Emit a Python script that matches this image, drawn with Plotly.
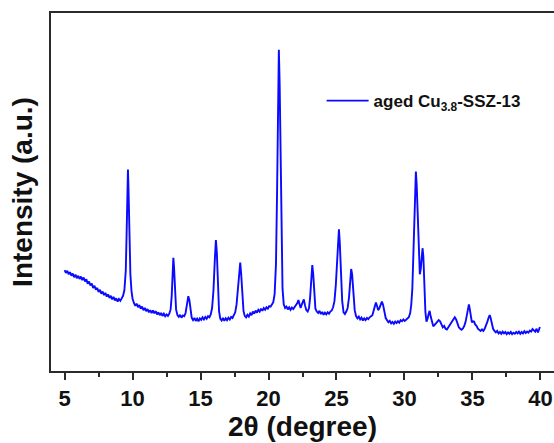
import plotly.graph_objects as go

# ---- data (2θ in degrees, intensity in arbitrary units) ----
two_theta = [
    5.0, 5.1, 5.2, 5.3, 5.4, 5.5, 5.6, 5.7, 5.8, 5.9, 6.0, 6.1, 6.2, 6.3, 6.4, 6.5, 6.6, 6.7, 6.8, 6.9,
    7.0, 7.1, 7.2, 7.3, 7.4, 7.5, 7.6, 7.7, 7.8, 7.9, 8.0, 8.1, 8.2, 8.3, 8.4, 8.5, 8.6, 8.7, 8.8, 8.9,
    9.0, 9.1, 9.2, 9.3, 9.4, 9.5, 9.56, 9.62, 9.66, 9.7, 9.76, 9.84, 9.92, 10.0,
    10.1, 10.2, 10.3, 10.4, 10.5, 10.6, 10.7, 10.8, 10.9, 11.0, 11.1, 11.2, 11.3, 11.4, 11.5, 11.6,
    11.7, 11.8, 11.9, 12.0, 12.1, 12.2, 12.3, 12.4, 12.5, 12.6, 12.7, 12.8, 12.88, 12.95, 13.0, 13.05,
    13.12, 13.2, 13.3, 13.4, 13.5, 13.6, 13.7, 13.8, 13.9, 14.0, 14.1, 14.18, 14.26, 14.35, 14.45,
    14.55, 14.65, 14.75, 14.85, 14.95, 15.05, 15.15, 15.25, 15.35, 15.45, 15.55, 15.65, 15.75, 15.85,
    15.95, 16.05, 16.13, 16.2, 16.28, 16.36, 16.45, 16.55, 16.65, 16.75, 16.85, 16.95, 17.05, 17.15,
    17.25, 17.35, 17.45, 17.55, 17.65, 17.75, 17.85, 17.92, 17.99, 18.07, 18.16, 18.25, 18.35, 18.45,
    18.55, 18.65, 18.75, 18.85, 18.95, 19.05, 19.15, 19.25, 19.35, 19.45, 19.55, 19.65, 19.75, 19.85,
    19.95, 20.05, 20.15, 20.25, 20.35, 20.45, 20.55, 20.63, 20.7, 20.76, 20.82, 20.88, 20.95, 21.03,
    21.12, 21.22, 21.32, 21.42, 21.52, 21.62, 21.72, 21.82, 21.92, 22.02, 22.12, 22.2, 22.28, 22.36,
    22.45, 22.53, 22.6, 22.68, 22.78, 22.88, 22.98, 23.06, 23.14, 23.22, 23.29, 23.36, 23.45, 23.55,
    23.65, 23.75, 23.85, 23.95, 24.05, 24.15, 24.25, 24.35, 24.45, 24.55, 24.65, 24.75, 24.85, 24.95,
    25.05, 25.13, 25.18, 25.24, 25.32, 25.42, 25.52, 25.62, 25.72, 25.82, 25.92, 26.0, 26.08, 26.15,
    26.24, 26.34, 26.44, 26.54, 26.64, 26.74, 26.84, 26.94, 27.04, 27.14, 27.24, 27.34, 27.44, 27.54,
    27.64, 27.74, 27.84, 27.9, 27.98, 28.06, 28.14, 28.24, 28.34, 28.42, 28.52, 28.62, 28.72, 28.82,
    28.92, 29.02, 29.12, 29.22, 29.32, 29.42, 29.52, 29.62, 29.72, 29.82, 29.92, 30.02, 30.12, 30.22,
    30.32, 30.42, 30.5, 30.58, 30.66, 30.74, 30.8, 30.84, 30.9, 30.97, 31.05, 31.13, 31.2, 31.27,
    31.33, 31.39, 31.46, 31.54, 31.62, 31.7, 31.78, 31.85, 31.93, 32.02, 32.12, 32.22, 32.32, 32.42,
    32.52, 32.62, 32.72, 32.82, 32.92, 33.02, 33.12, 33.22, 33.32, 33.42, 33.52, 33.62, 33.7, 33.8,
    33.9, 34.0, 34.1, 34.2, 34.3, 34.4, 34.5, 34.6, 34.68, 34.74, 34.8, 34.88, 34.96, 35.04, 35.12,
    35.2, 35.3, 35.4, 35.5, 35.6, 35.7, 35.8, 35.9, 36.0, 36.1, 36.2, 36.27, 36.34, 36.42, 36.52,
    36.62, 36.72, 36.82, 36.92, 37.02, 37.12, 37.22, 37.32, 37.42, 37.52, 37.62, 37.72, 37.82, 37.92,
    38.02, 38.12, 38.22, 38.32, 38.42, 38.52, 38.62, 38.72, 38.82, 38.92, 39.02, 39.12, 39.22, 39.32,
    39.42, 39.52, 39.62, 39.72, 39.82, 39.9, 39.96,
]
intensity = [
    28.2, 27.4, 28.0, 27.0, 27.6, 26.6, 27.2, 26.2, 26.9, 25.9, 26.6, 25.7, 26.4, 25.4, 26.1, 25.0, 25.6, 24.4, 25.0, 23.9,
    24.4, 23.2, 23.8, 22.7, 23.2, 22.1, 22.7, 21.6, 22.2, 21.2, 21.8, 20.8, 21.4, 20.4, 21.0, 20.0, 20.7, 19.7, 20.3, 19.4,
    20.1, 19.6, 20.3, 21.0, 22.6, 28.0, 38.0, 52.0, 56.3, 51.0, 38.0, 27.0, 22.4, 20.2,
    19.0, 18.2, 18.8, 17.8, 18.4, 17.4, 18.0, 17.0, 17.6, 16.7, 17.3, 16.4, 17.0, 16.2, 16.9, 16.1,
    16.7, 15.8, 16.4, 15.6, 16.2, 15.4, 16.0, 15.3, 15.8, 15.4, 16.0, 17.2, 21.0, 28.0, 31.6, 29.0,
    21.5, 17.2, 15.6, 15.1, 15.7, 14.9, 15.5, 15.3, 16.2, 18.2, 20.9, 19.8, 16.5, 14.9, 14.2,
    14.8, 14.0, 14.6, 13.9, 14.7, 14.3, 15.0, 14.4, 15.1, 14.6, 15.3, 15.0, 15.8, 17.6,
    22.5, 31.0, 36.6, 33.0, 23.0, 16.8, 14.6, 14.1, 14.8, 14.0, 14.7, 14.2, 14.9, 14.4,
    15.1, 14.8, 15.6, 16.4, 18.6, 22.5, 28.0, 30.3, 27.0, 21.0, 16.8, 15.4, 15.0, 15.7,
    15.2, 16.1, 15.6, 16.6, 16.0, 16.9, 16.3, 17.1, 16.6, 17.4, 16.8, 17.6, 17.1, 17.8,
    17.4, 18.1, 18.0, 18.6, 19.2, 21.5, 30.0, 50.0, 75.0, 89.7, 80.0, 58.0, 35.0, 23.0,
    18.6, 17.6, 18.0, 17.2, 17.8, 17.1, 17.7, 17.3, 17.9, 18.3, 19.0, 19.8, 18.4, 17.6,
    18.6, 19.8, 20.0, 18.4, 17.0, 16.6, 17.6, 20.5, 25.5, 29.6, 27.0, 21.5, 17.4, 16.6,
    16.2, 16.8, 15.9, 16.5, 15.7, 16.3, 15.8, 16.4, 16.0, 16.6, 16.9, 17.8, 19.5, 24.0,
    32.0, 38.5, 39.6, 36.0, 27.0, 19.5, 16.4, 15.9, 16.6, 17.6, 20.5, 25.0, 28.5, 27.0,
    21.0, 17.0, 15.3, 14.7, 15.2, 14.4, 14.9, 14.1, 14.7, 14.2, 14.8, 14.5, 15.0, 15.3,
    15.6, 17.0, 18.6, 19.1, 18.2, 17.0, 17.4, 18.6, 19.4, 18.6, 16.4, 14.8, 14.2, 13.6,
    14.0, 13.3, 13.7, 13.2, 13.8, 13.4, 13.9, 13.5, 14.2, 13.9, 14.4, 14.0, 14.3, 14.6,
    15.0, 16.2, 18.5, 23.0, 33.0, 46.0, 53.5, 55.7, 52.0, 42.0, 31.0, 27.0, 28.5, 32.5,
    34.3, 32.0, 24.0, 16.5, 13.8, 14.6, 16.0, 16.8, 15.2, 13.4, 12.5, 12.9, 13.4, 13.8,
    14.2, 13.9, 13.0, 12.2, 12.6, 11.8, 11.6, 12.2, 12.8, 13.6, 14.2, 14.8, 15.0, 14.4,
    13.2, 12.2, 11.8, 11.5, 11.9, 12.6, 13.8, 16.0, 18.0, 18.6, 17.4, 15.0, 13.6, 13.9, 13.8,
    13.0, 12.6, 11.8, 11.4, 11.2, 11.6, 11.2, 11.8, 12.6, 13.8, 15.0, 15.6, 14.8, 13.2, 11.8,
    11.2, 10.8, 11.2, 10.5, 10.9, 10.4, 11.0, 10.5, 10.9, 10.3, 10.8, 10.4, 10.9, 10.3,
    10.7, 10.4, 10.9, 10.5, 11.0, 10.4, 10.9, 10.5, 11.1, 10.6, 11.0, 10.7, 11.3, 11.0,
    11.7, 11.3, 11.0, 11.8, 10.8, 11.6, 12.3,
]
x_ticks = [5, 10, 15, 20, 25, 30, 35, 40]
x_minor_ticks = [7.5, 12.5, 17.5, 22.5, 27.5, 32.5, 37.5]
series_name = "aged Cu<sub>3.8</sub>-SSZ-13"

FONT = "Liberation Sans, Arial, sans-serif"
AXIS_COLOR = "#2b2b2b"

fig = go.Figure()
fig.add_trace(go.Scatter(
    x=two_theta, y=intensity, mode="lines", name=series_name,
    line=dict(color="#0a0aff", width=1.9),
))

fig.update_layout(
    width=554, height=443,
    margin=dict(l=51, r=0, t=13, b=72),
    paper_bgcolor="white", plot_bgcolor="white",
    showlegend=True,
    legend=dict(
        x=0.538, y=0.754, xanchor="left", yanchor="middle",
        bgcolor="rgba(0,0,0,0)", itemwidth=42,
        font=dict(family=FONT, size=17, color="#111", weight="bold"),
    ),
    xaxis=dict(
        range=[4, 41],
        tickvals=x_ticks, ticktext=[str(t) for t in x_ticks],
        ticks="outside", ticklen=7, tickwidth=1.5, tickcolor=AXIS_COLOR,
        minor=dict(tickvals=x_minor_ticks, ticks="outside", ticklen=4,
                   tickwidth=1.5, tickcolor=AXIS_COLOR),
        showline=True, linecolor=AXIS_COLOR, linewidth=1.5, mirror=True,
        showgrid=False, zeroline=False,
        tickfont=dict(family=FONT, size=22, color="#111", weight="bold"),
        title=dict(text="2θ (degree)", standoff=4,
                   font=dict(family=FONT, size=28, color="#111", weight="bold")),
    ),
    yaxis=dict(
        range=[0, 100],
        showticklabels=False, ticks="",
        showline=True, linecolor=AXIS_COLOR, linewidth=1.5, mirror=False,
        showgrid=False, zeroline=False,
        title=dict(text="Intensity (a.u.)", standoff=8,
                   font=dict(family=FONT, size=28, color="#111", weight="bold")),
    ),
)

fig.write_html("out.html", config={"displayModeBar": False},
               post_script="document.body.style.margin='0';")
